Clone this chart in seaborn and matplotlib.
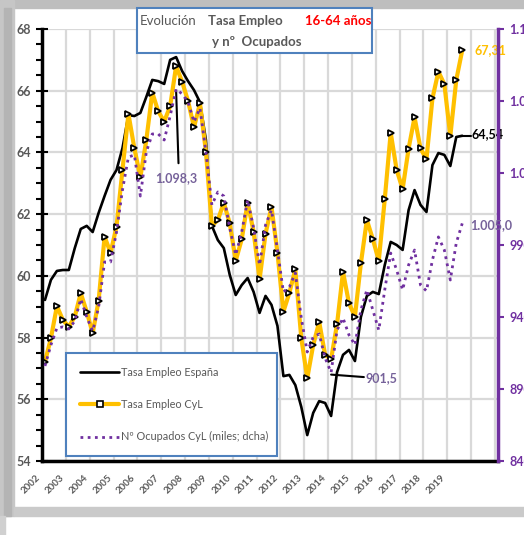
import numpy as np
import pandas as pd
import seaborn as sns
import matplotlib.pyplot as plt
from matplotlib.patches import Rectangle
from matplotlib.lines import Line2D
from matplotlib.ticker import MultipleLocator, FixedLocator

# trimestres 2002T1 .. 2019T3
years = [str(y) for y in range(2002, 2020)]

tasa_espana = [59.22, 59.87, 60.16, 60.19, 60.19, 60.90, 61.52, 61.62, 61.42, 62.04,
               62.59, 63.11, 63.43, 64.14, 65.21, 65.18, 65.28, 65.80, 66.35, 66.31,
               66.22, 67.00, 67.09, 66.64, 66.31, 66.02, 65.63, 64.40, 61.62, 61.16,
               60.90, 60.03, 59.38, 59.70, 59.93, 59.48, 58.80, 59.35, 59.06, 58.38,
               56.75, 56.79, 56.46, 55.75, 54.84, 55.56, 55.94, 55.88, 55.46, 56.88,
               57.44, 57.60, 57.24, 58.67, 59.35, 59.48, 59.41, 60.35, 61.10, 61.00,
               60.84, 62.13, 62.78, 62.30, 62.07, 63.59, 63.98, 63.92, 63.56, 64.50,
               64.54]

tasa_cyl = [57.22, 57.98, 59.02, 58.57, 58.35, 58.68, 59.44, 58.84, 58.14, 59.20,
            61.27, 60.75, 61.59, 63.43, 65.25, 64.13, 63.20, 64.40, 65.94, 65.33,
            65.00, 65.50, 66.80, 66.29, 65.67, 64.81, 65.59, 64.02, 61.62, 61.81,
            62.37, 61.70, 60.49, 61.18, 62.37, 61.43, 59.89, 61.36, 62.24, 60.75,
            58.84, 59.45, 60.21, 57.98, 56.68, 57.76, 58.51, 57.44, 57.30, 58.44,
            60.13, 59.11, 58.68, 60.41, 61.81, 61.19, 60.49, 62.48, 64.64, 63.43,
            62.81, 64.12, 65.14, 64.13, 63.78, 65.75, 66.62, 66.21, 64.53, 66.35,
            67.31]

ocupados_cyl = [906.0, 920.6, 932.4, 933.1, 931.7, 937.2, 952.5, 940.0, 930.3, 946.9,
                978.2, 978.2, 999.0, 1028.2, 1051.1, 1052.5, 1024.0, 1054.6, 1067.1, 1067.1,
                1062.9, 1079.6, 1098.3, 1094.9, 1089.3, 1075.4, 1085.1, 1054.6, 1017.8, 1026.8,
                1024.0, 1001.8, 983.1, 999.0, 1021.3, 1001.8, 976.1, 1003.9, 1014.3, 986.5,
                957.4, 960.8, 970.6, 939.3, 915.7, 926.1, 928.2, 911.5, 901.5, 930.9,
                939.3, 927.5, 920.6, 944.9, 958.8, 944.9, 930.9, 958.8, 984.4, 972.6,
                958.8, 976.1, 986.5, 962.2, 958.1, 979.6, 995.6, 986.5, 965.7, 991.4,
                1005.0]

left_ticks = [54, 56, 58, 60, 62, 64, 66, 68]
right_ticks = [840, 890, 940, 990, 1040, 1090, 1140]
right_labels = ['840', '890', '940', '990', '1.040', '1.090', '1.140']

GREY = '#595959'
ORANGE = '#FFC000'
PURPLE = '#7030A0'
LABEL_PURPLE = '#76629A'

sns.set_style('white')
plt.rcParams['font.family'] = ['Lato', 'DejaVu Sans']

W, H = 524, 535
def fx(px):
    return px / W
def fy(py):
    return 1 - py / H

fig = plt.figure(figsize=(W / 100, H / 100), dpi=100)

# marco gris (sombra estilo Excel)
def band(x0, y0, x1, y1, c):
    fig.patches.append(Rectangle((fx(x0), fy(y1)), fx(x1) - fx(x0), fy(y0) - fy(y1),
                                 transform=fig.transFigure, color=c, zorder=0))
band(0, 0, W, 8, '#BEBEBE')
band(0, 0, 14, 516, '#C6C6C6')
band(4, 8, 11, 516, '#B4B4B4')
band(14, 507, W, 516, '#CACACA')
band(0, 516, 5, H, '#D0D0D0')

ax = fig.add_axes([fx(42), fy(461), fx(498) - fx(42), fy(29) - fy(461)])
ax.set_facecolor('white')

df = pd.DataFrame({'pos': np.arange(len(tasa_cyl)) + 0.5,
                   'esp': tasa_espana, 'cyl': tasa_cyl, 'ocu': ocupados_cyl})

sns.lineplot(data=df, x='pos', y='esp', ax=ax, color='black', linewidth=1.9, legend=False)
sns.lineplot(data=df, x='pos', y='cyl', ax=ax, color=ORANGE, linewidth=3.0, legend=False,
             marker='>', markersize=5, markerfacecolor='white', markeredgecolor='black',
             markeredgewidth=1.3)

ax.set_xlim(0, 76.5)
ax.set_ylim(54, 68)
ax.set_xlabel('')
ax.set_ylabel('')

ax.xaxis.set_major_locator(FixedLocator(np.arange(0, 77, 4)))
ax.xaxis.set_minor_locator(FixedLocator(np.arange(2, 77, 4)))
xlabels = years + [''] * (len(np.arange(0, 77, 4)) - len(years))
ax.set_xticklabels(xlabels, rotation=45, ha='right', fontsize=7, fontweight='bold', color=GREY)
ax.set_yticks(left_ticks)
ax.set_yticklabels([str(t) for t in left_ticks], fontsize=9, fontweight='bold', color=GREY)
ax.yaxis.set_minor_locator(MultipleLocator(0.5))

ax.tick_params(axis='x', which='both', direction='inout', length=7, width=1.5, color='black', pad=5)
ax.tick_params(axis='y', which='major', direction='inout', length=8, width=1.5, color='black', pad=4)
ax.tick_params(axis='y', which='minor', direction='out', length=4, width=1.5, color='black')

ax.grid(True, which='major', color='#D9D9D9', linewidth=1.6)
ax.set_axisbelow(True)
for s in ['top', 'right']:
    ax.spines[s].set_visible(False)
for s in ['left', 'bottom']:
    ax.spines[s].set_color('black')
    ax.spines[s].set_linewidth(2.5)

ax2 = ax.twinx()
sns.lineplot(data=df, x='pos', y='ocu', ax=ax2, color=PURPLE, linewidth=2.0,
             linestyle=(0, (1, 1.6)), legend=False)
ax2.set_ylim(840, 1140)
ax2.set_ylabel('')
ax2.set_yticks(right_ticks)
ax2.set_yticklabels(right_labels, fontsize=9, fontweight='bold', color=PURPLE)
ax2.tick_params(axis='y', direction='out', length=4, width=1.5, color=PURPLE, pad=4)
for s in ['top', 'left', 'bottom']:
    ax2.spines[s].set_visible(False)
ax2.spines['right'].set_color(PURPLE)
ax2.spines['right'].set_linewidth(2.5)

# etiquetas de datos
ax.text(72.5, 67.31, '67,31', color=ORANGE, fontsize=9, fontweight='bold', va='center', ha='left')
ax.plot([70.5, 71.9], [64.54, 64.54], color='black', linewidth=1.5)
ax.text(72.1, 64.6, '64,54', color='black', fontsize=9, fontweight='bold', va='center', ha='left')
ax2.text(71.8, 1004, '1.005,0', color=LABEL_PURPLE, fontsize=9, fontweight='bold', va='center', ha='left')
ax.plot([22.5, 22.9], [66.0, 63.65], color='black', linewidth=1.5)
ax.text(19.0, 63.17, '1.098,3', color=LABEL_PURPLE, fontsize=9, fontweight='bold', va='center', ha='left')
ax.plot([48.5, 54.0], [56.8, 56.72], color='black', linewidth=1.5)
ax.text(54.3, 56.69, '901,5', color=LABEL_PURPLE, fontsize=9, fontweight='bold', va='center', ha='left')

# leyenda
handles = [
    Line2D([], [], color='black', linewidth=1.9),
    Line2D([], [], color=ORANGE, linewidth=3.0, marker='s', markersize=4,
           markerfacecolor='white', markeredgecolor='black', markeredgewidth=1.2),
    Line2D([], [], color=PURPLE, linewidth=2.0, linestyle=(0, (1, 1.6))),
]
names = ['Tasa Empleo España', 'Tasa Empleo CyL', 'Nº Ocupados CyL (miles; dcha)']
bx = (66 - 42) / 456
by = (461 - 353) / 432
bw = (277 - 66) / 456
leg = ax2.legend(handles, names, loc='upper left', bbox_to_anchor=(bx, by - 0.3, bw, 0.3),
                 mode='expand', borderaxespad=0, fontsize=7.8, labelcolor=GREY,
                 handlelength=3.6, handletextpad=0.15, labelspacing=1.95, borderpad=1.3,
                 fancybox=False, framealpha=1, edgecolor='#4F81BD')
leg.get_frame().set_linewidth(1.5)

# cuadro de título
fig.patches.append(Rectangle((fx(137), fy(53)), fx(372) - fx(137), fy(8) - fy(53),
                             transform=fig.transFigure, facecolor='white',
                             edgecolor='#4F81BD', linewidth=1.5, zorder=5))
fig.text(fx(140), fy(21), 'Evolución', color=GREY, fontsize=9.5, va='center', ha='left', zorder=6)
fig.text(fx(208), fy(21), 'Tasa Empleo', color=GREY, fontsize=9.5, fontweight='bold',
         va='center', ha='left', zorder=6)
fig.text(fx(305), fy(21), '16-64 años', color='#FF0000', fontsize=9.5, fontweight='bold',
         va='center', ha='left', zorder=6)
fig.text(fx(212), fy(42), 'y nº  Ocupados', color=GREY, fontsize=9.5, fontweight='bold',
         va='center', ha='left', zorder=6)

fig.savefig('out.png', dpi=100)
